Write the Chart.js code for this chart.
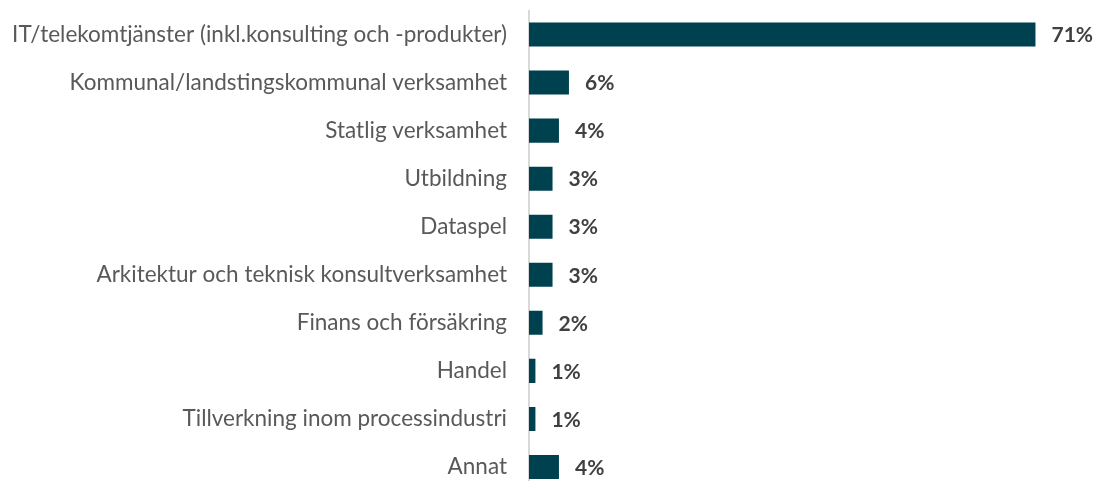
<!DOCTYPE html>
<html>
<head>
<meta charset="utf-8">
<script src="https://cdn.jsdelivr.net/npm/chart.js@4/dist/chart.umd.min.js"></script>
<style>
  html, body { margin: 0; padding: 0; background: #fff; overflow: hidden; }
</style>
</head>
<body>
<canvas id="mycanvas" width="1095" height="495"></canvas>
<script>
// branscher (andel svarande)
var categories = [
  'IT/telekomtjänster (inkl.konsulting och -produkter)',
  'Kommunal/landstingskommunal verksamhet',
  'Statlig verksamhet',
  'Utbildning',
  'Dataspel',
  'Arkitektur och teknisk konsultverksamhet',
  'Finans och försäkring',
  'Handel',
  'Tillverkning inom processindustri',
  'Annat'
];
var values = [71, 5.6, 4.2, 3.3, 3.3, 3.3, 1.9, 0.9, 0.9, 4.2];
var valueLabels = ['71%', '6%', '4%', '3%', '3%', '3%', '2%', '1%', '1%', '4%'];

var barColor = '#00414f';

// draws the bold percent next to each bar
var valueLabelPlugin = {
  id: 'valueLabels',
  afterDatasetsDraw: function(chart) {
    var ctx = chart.ctx;
    var meta = chart.getDatasetMeta(0);
    ctx.save();
    ctx.font = 'bold 21px Lato';
    ctx.fillStyle = '#404040';
    ctx.textAlign = 'left';
    ctx.textBaseline = 'middle';
    meta.data.forEach(function(bar, i) {
      ctx.fillText(valueLabels[i], bar.x + 16, bar.y + 1);
    });
    ctx.restore();
  }
};

var ctx = document.getElementById('mycanvas');

var chart = new Chart(ctx, {
  type: 'bar',
  data: {
    labels: categories,
    datasets: [{
      data: values,
      backgroundColor: barColor,
      borderWidth: 0,
      barPercentage: 0.5,
      categoryPercentage: 1.0
    }]
  },
  options: {
    indexAxis: 'y',
    responsive: false,
    maintainAspectRatio: false,
    animation: false,
    layout: {
      padding: { top: 10.5, bottom: 4, left: 0, right: 31 }
    },
    scales: {
      x: {
        display: false,
        min: 0,
        max: 75
      },
      y: {
        afterFit: function(scale) {
          scale.width = 529;
          scale.paddingTop = 0;
          scale.paddingBottom = 0;
        },
        grid: { display: false, drawTicks: false },
        border: { display: true, color: '#d9d9d9', width: 2 },
        ticks: {
          padding: 22,
          color: '#595959',
          font: { family: 'Lato', size: 22.5 }
        }
      }
    },
    plugins: {
      legend: { display: false },
      tooltip: { enabled: false }
    }
  },
  plugins: [valueLabelPlugin]
});
</script>
</body>
</html>
